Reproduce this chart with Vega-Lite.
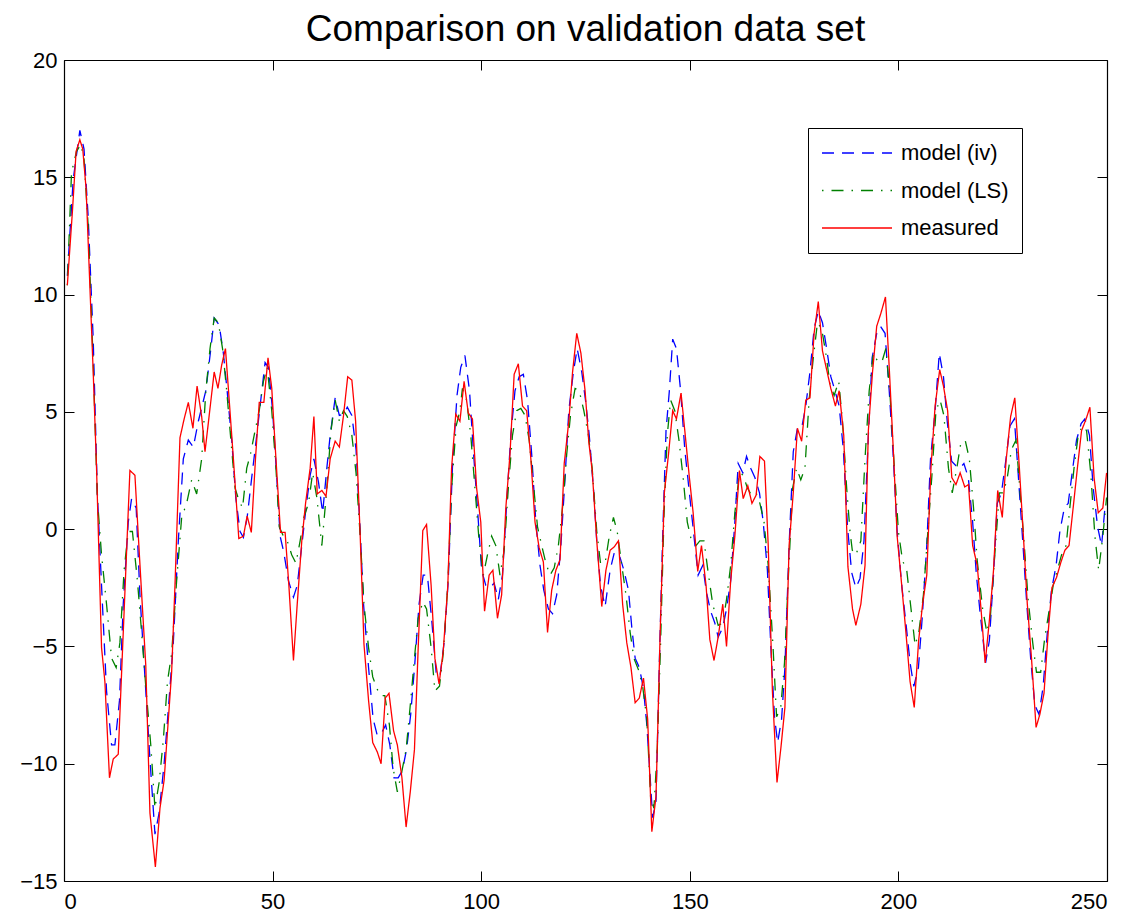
{
  "$schema": "https://vega.github.io/schema/vega-lite/v6.json",
  "autosize": {"type": "none"},
  "padding": {"left": 64, "top": 60, "right": 24, "bottom": 34},
  "width": 1043,
  "height": 821,
  "background": "white",
  "title": {"text": "Comparison on validation data set", "font": "Liberation Sans", "fontSize": 37, "fontWeight": "normal", "color": "black", "baseline": "alphabetic", "offset": -29, "anchor": "middle"},
  "datasets": {
    "iv": [
      {"x":0.8,"y":10.8},{"x":2.2,"y":14.9},{"x":3.8,"y":17.0},{"x":4.8,"y":16.2},{"x":5.8,"y":13.3},{"x":7.0,"y":8.1},{"x":8.0,"y":1.5},{"x":9.0,"y":-2.4},{"x":10.2,"y":-6.9},{"x":11.4,"y":-9.2},{"x":12.2,"y":-9.2},{"x":13.3,"y":-7.3},{"x":14.2,"y":-3.2},{"x":15.4,"y":0.3},{"x":16.2,"y":1.3},{"x":17.3,"y":0.9},{"x":18.2,"y":-2.8},{"x":19.4,"y":-6.3},{"x":20.6,"y":-9.8},{"x":21.8,"y":-13.0},{"x":22.8,"y":-12.1},{"x":24.0,"y":-10.0},{"x":25.0,"y":-7.7},{"x":26.2,"y":-4.85},{"x":27.4,"y":-0.5},{"x":28.6,"y":3.0},{"x":29.8,"y":3.8},{"x":31.0,"y":3.5},{"x":32.2,"y":4.6},{"x":34.0,"y":5.9},{"x":35.2,"y":7.7},{"x":36.0,"y":9.0},{"x":37.2,"y":8.7},{"x":38.2,"y":7.5},{"x":39.1,"y":5.9},{"x":40.2,"y":3.8},{"x":41.2,"y":1.3},{"x":42.2,"y":-0.1},{"x":43.0,"y":-0.35},{"x":43.9,"y":0.5},{"x":45.0,"y":2.2},{"x":46.2,"y":4.0},{"x":47.1,"y":5.4},{"x":48.2,"y":7.1},{"x":49.0,"y":6.9},{"x":50.0,"y":5.05},{"x":51.0,"y":2.2},{"x":51.8,"y":-0.3},{"x":52.7,"y":-1.0},{"x":53.8,"y":-2.2},{"x":55.0,"y":-2.9},{"x":55.9,"y":-2.4},{"x":57.0,"y":-0.7},{"x":58.0,"y":0.9},{"x":59.0,"y":2.3},{"x":59.9,"y":3.0},{"x":61.0,"y":2.0},{"x":62.0,"y":0.7},{"x":63.0,"y":2.6},{"x":63.8,"y":4.0},{"x":65.0,"y":5.6},{"x":66.0,"y":4.85},{"x":67.0,"y":4.9},{"x":67.9,"y":5.2},{"x":69.0,"y":4.85},{"x":70.0,"y":3.4},{"x":71.0,"y":-0.1},{"x":71.8,"y":-3.2},{"x":73.0,"y":-5.9},{"x":74.1,"y":-8.1},{"x":75.1,"y":-8.8},{"x":76.1,"y":-8.7},{"x":77.1,"y":-8.35},{"x":78.1,"y":-9.2},{"x":79.1,"y":-10.6},{"x":80.1,"y":-10.6},{"x":81.1,"y":-10.3},{"x":82.1,"y":-9.4},{"x":83.1,"y":-7.9},{"x":84.1,"y":-5.7},{"x":85.1,"y":-3.2},{"x":86.1,"y":-1.96},{"x":87.1,"y":-1.96},{"x":88.1,"y":-3.8},{"x":89.2,"y":-6.1},{"x":90.1,"y":-6.3},{"x":91.1,"y":-4.85},{"x":92.1,"y":-2.2},{"x":93.1,"y":2.6},{"x":94.2,"y":5.7},{"x":95.1,"y":6.9},{"x":96.1,"y":7.4},{"x":97.2,"y":5.9},{"x":98.1,"y":3.4},{"x":99.1,"y":0.9},{"x":100.1,"y":-1.75},{"x":101.1,"y":-2.4},{"x":102.1,"y":-2.5},{"x":103.1,"y":-2.3},{"x":104.1,"y":-3.0},{"x":105.1,"y":-1.96},{"x":106.1,"y":1.1},{"x":107.1,"y":4.0},{"x":108.1,"y":5.9},{"x":109.1,"y":6.5},{"x":110.1,"y":6.6},{"x":111.1,"y":5.5},{"x":112.1,"y":3.2},{"x":113.1,"y":0.3},{"x":114.1,"y":-1.55},{"x":115.0,"y":-2.6},{"x":116.1,"y":-3.4},{"x":117.1,"y":-3.6},{"x":118.1,"y":-2.8},{"x":119.1,"y":-0.7},{"x":120.1,"y":2.2},{"x":121.0,"y":5.05},{"x":122.1,"y":6.7},{"x":123.0,"y":7.7},{"x":124.1,"y":6.7},{"x":125.0,"y":5.5},{"x":125.9,"y":4.0},{"x":126.9,"y":1.75},{"x":127.7,"y":-0.5},{"x":128.6,"y":-2.4},{"x":129.7,"y":-3.3},{"x":130.9,"y":-1.75},{"x":131.9,"y":-1.0},{"x":133.1,"y":-1.1},{"x":134.2,"y":-1.75},{"x":135.3,"y":-2.6},{"x":136.1,"y":-4.2},{"x":136.9,"y":-5.5},{"x":137.9,"y":-5.9},{"x":138.9,"y":-6.8},{"x":139.7,"y":-8.35},{"x":140.5,"y":-10.6},{"x":141.1,"y":-12.3},{"x":141.9,"y":-11.6},{"x":142.7,"y":-5.7},{"x":143.5,"y":-0.3},{"x":144.3,"y":4.2},{"x":145.1,"y":5.9},{"x":145.9,"y":8.1},{"x":146.8,"y":7.7},{"x":147.8,"y":5.9},{"x":148.8,"y":3.4},{"x":149.9,"y":1.55},{"x":151.0,"y":-0.3},{"x":152.0,"y":-1.96},{"x":153.1,"y":-1.55},{"x":154.0,"y":-2.7},{"x":155.0,"y":-3.5},{"x":156.0,"y":-4.0},{"x":156.8,"y":-4.6},{"x":157.9,"y":-4.2},{"x":158.8,"y":-3.4},{"x":159.8,"y":-2.2},{"x":160.8,"y":0.3},{"x":161.6,"y":2.8},{"x":162.7,"y":2.4},{"x":163.6,"y":3.1},{"x":164.6,"y":2.6},{"x":165.6,"y":2.2},{"x":166.7,"y":1.55},{"x":167.6,"y":0.3},{"x":168.6,"y":-1.75},{"x":169.5,"y":-5.3},{"x":170.3,"y":-8.0},{"x":171.05,"y":-9.1},{"x":172.0,"y":-8.1},{"x":172.8,"y":-5.9},{"x":173.8,"y":-0.7},{"x":174.8,"y":3.3},{"x":175.8,"y":4.3},{"x":176.8,"y":4.3},{"x":177.8,"y":5.25},{"x":178.8,"y":6.7},{"x":179.8,"y":8.55},{"x":180.8,"y":9.3},{"x":181.8,"y":8.8},{"x":182.8,"y":7.7},{"x":183.8,"y":6.5},{"x":184.8,"y":5.9},{"x":185.8,"y":5.25},{"x":186.8,"y":3.4},{"x":187.8,"y":0.1},{"x":188.8,"y":-1.85},{"x":189.8,"y":-2.5},{"x":190.8,"y":-2.1},{"x":191.75,"y":-0.5},{"x":192.8,"y":4.0},{"x":193.7,"y":7.3},{"x":194.8,"y":8.35},{"x":195.7,"y":8.65},{"x":196.8,"y":8.35},{"x":197.8,"y":5.9},{"x":198.8,"y":3.0},{"x":199.7,"y":-0.1},{"x":200.8,"y":-2.4},{"x":201.8,"y":-4.0},{"x":202.8,"y":-5.7},{"x":203.7,"y":-6.7},{"x":204.8,"y":-5.9},{"x":205.7,"y":-3.8},{"x":206.8,"y":-0.7},{"x":207.7,"y":3.0},{"x":208.8,"y":5.05},{"x":209.8,"y":7.5},{"x":210.8,"y":6.5},{"x":211.7,"y":4.6},{"x":212.75,"y":2.9},{"x":213.8,"y":2.7},{"x":214.75,"y":2.6},{"x":215.7,"y":2.8},{"x":216.75,"y":2.2},{"x":217.8,"y":0.3},{"x":218.7,"y":-1.96},{"x":219.6,"y":-3.6},{"x":220.9,"y":-5.7},{"x":221.8,"y":-4.75},{"x":222.8,"y":-1.96},{"x":223.7,"y":1.1},{"x":224.7,"y":1.55},{"x":225.8,"y":3.0},{"x":226.75,"y":4.4},{"x":227.8,"y":4.7},{"x":228.7,"y":2.4},{"x":229.8,"y":-0.5},{"x":230.7,"y":-3.0},{"x":231.7,"y":-5.5},{"x":232.7,"y":-7.5},{"x":233.7,"y":-7.9},{"x":234.7,"y":-6.7},{"x":235.7,"y":-4.4},{"x":236.7,"y":-2.6},{"x":237.8,"y":-1.55},{"x":238.7,"y":-0.1},{"x":239.8,"y":0.93},{"x":240.7,"y":1.1},{"x":241.8,"y":2.6},{"x":242.7,"y":3.8},{"x":243.8,"y":4.5},{"x":244.7,"y":4.7},{"x":245.8,"y":4.0},{"x":246.7,"y":1.75},{"x":247.75,"y":0.1},{"x":248.7,"y":-0.7},{"x":249.5,"y":0.9}
    ],
    "ls": [
      {"x":0.8,"y":10.4},{"x":1.8,"y":15.2},{"x":3.0,"y":16.1},{"x":4.0,"y":16.4},{"x":4.8,"y":15.8},{"x":5.8,"y":12.9},{"x":7.0,"y":7.1},{"x":8.0,"y":1.3},{"x":9.0,"y":-1.1},{"x":10.2,"y":-3.2},{"x":11.4,"y":-5.5},{"x":12.5,"y":-5.9},{"x":13.4,"y":-4.85},{"x":14.4,"y":-1.75},{"x":15.4,"y":-0.1},{"x":16.4,"y":-0.1},{"x":17.6,"y":-2.2},{"x":18.6,"y":-4.4},{"x":19.6,"y":-6.7},{"x":20.8,"y":-9.2},{"x":21.8,"y":-11.9},{"x":22.8,"y":-10.8},{"x":23.8,"y":-9.0},{"x":24.8,"y":-6.5},{"x":25.8,"y":-5.3},{"x":27.0,"y":-2.2},{"x":28.2,"y":0.5},{"x":29.4,"y":1.1},{"x":30.6,"y":2.1},{"x":31.8,"y":1.5},{"x":33.0,"y":3.0},{"x":34.0,"y":5.9},{"x":35.0,"y":7.7},{"x":36.0,"y":9.0},{"x":37.0,"y":8.8},{"x":38.0,"y":7.7},{"x":39.0,"y":5.9},{"x":40.0,"y":3.8},{"x":41.0,"y":1.75},{"x":41.8,"y":1.3},{"x":42.8,"y":0.9},{"x":43.8,"y":2.6},{"x":44.7,"y":3.2},{"x":45.8,"y":4.2},{"x":46.8,"y":5.05},{"x":47.8,"y":6.3},{"x":48.7,"y":6.9},{"x":49.8,"y":5.05},{"x":50.8,"y":2.6},{"x":51.6,"y":0.1},{"x":52.6,"y":-0.3},{"x":53.5,"y":-0.5},{"x":54.6,"y":-1.1},{"x":55.6,"y":-1.45},{"x":56.6,"y":-0.5},{"x":57.5,"y":0.5},{"x":58.6,"y":1.1},{"x":59.6,"y":2.4},{"x":60.6,"y":1.35},{"x":61.8,"y":-0.7},{"x":63.0,"y":1.75},{"x":64.0,"y":4.2},{"x":65.0,"y":5.5},{"x":66.0,"y":4.6},{"x":67.0,"y":5.05},{"x":67.9,"y":4.8},{"x":69.0,"y":4.0},{"x":70.0,"y":2.4},{"x":71.0,"y":-0.3},{"x":71.9,"y":-3.2},{"x":73.0,"y":-5.05},{"x":74.0,"y":-6.3},{"x":75.0,"y":-6.8},{"x":75.9,"y":-7.1},{"x":76.9,"y":-7.1},{"x":78.0,"y":-8.35},{"x":78.9,"y":-10.2},{"x":79.9,"y":-11.2},{"x":80.9,"y":-10.4},{"x":82.0,"y":-9.4},{"x":82.9,"y":-7.7},{"x":84.0,"y":-5.5},{"x":84.9,"y":-3.8},{"x":86.0,"y":-3.1},{"x":86.9,"y":-3.4},{"x":88.0,"y":-5.05},{"x":88.9,"y":-6.9},{"x":90.0,"y":-6.7},{"x":90.9,"y":-5.3},{"x":92.0,"y":-2.4},{"x":92.9,"y":1.75},{"x":94.0,"y":4.4},{"x":94.9,"y":5.05},{"x":95.5,"y":6.0},{"x":96.5,"y":5.5},{"x":97.5,"y":4.0},{"x":98.5,"y":1.75},{"x":99.5,"y":-0.5},{"x":100.5,"y":-1.96},{"x":101.5,"y":-1.1},{"x":102.5,"y":-0.3},{"x":103.5,"y":-0.7},{"x":104.5,"y":-1.96},{"x":105.5,"y":-0.9},{"x":106.5,"y":1.75},{"x":107.5,"y":4.0},{"x":108.5,"y":5.05},{"x":109.5,"y":5.15},{"x":110.5,"y":4.85},{"x":111.5,"y":3.8},{"x":112.5,"y":1.95},{"x":113.5,"y":0.1},{"x":114.5,"y":-0.7},{"x":115.5,"y":-1.45},{"x":116.5,"y":-1.96},{"x":117.5,"y":-1.65},{"x":118.5,"y":-0.7},{"x":119.5,"y":0.93},{"x":120.5,"y":3.2},{"x":121.4,"y":4.85},{"x":122.5,"y":6.0},{"x":123.5,"y":5.9},{"x":124.6,"y":5.05},{"x":125.7,"y":4.0},{"x":126.6,"y":2.6},{"x":127.7,"y":-0.1},{"x":128.6,"y":-1.45},{"x":129.7,"y":-1.45},{"x":130.7,"y":-0.3},{"x":131.7,"y":0.5},{"x":132.6,"y":-0.1},{"x":133.7,"y":-1.55},{"x":134.7,"y":-2.8},{"x":135.7,"y":-4.4},{"x":136.6,"y":-5.5},{"x":137.7,"y":-6.0},{"x":138.7,"y":-6.7},{"x":139.7,"y":-8.1},{"x":140.6,"y":-11.4},{"x":141.4,"y":-11.9},{"x":142.2,"y":-9.4},{"x":143.0,"y":-4.85},{"x":143.8,"y":0.5},{"x":144.6,"y":4.0},{"x":145.4,"y":5.5},{"x":146.4,"y":5.05},{"x":147.4,"y":3.8},{"x":148.4,"y":2.2},{"x":149.4,"y":0.3},{"x":150.4,"y":-0.5},{"x":151.5,"y":-0.7},{"x":152.4,"y":-0.5},{"x":153.4,"y":-0.5},{"x":154.4,"y":-1.85},{"x":155.5,"y":-3.2},{"x":156.8,"y":-4.1},{"x":157.9,"y":-4.0},{"x":158.8,"y":-3.0},{"x":159.8,"y":-1.55},{"x":160.8,"y":0.7},{"x":161.9,"y":2.4},{"x":162.8,"y":2.3},{"x":163.8,"y":1.75},{"x":164.8,"y":1.45},{"x":165.9,"y":1.55},{"x":166.8,"y":1.1},{"x":167.8,"y":0.3},{"x":168.8,"y":-1.55},{"x":169.9,"y":-4.85},{"x":170.8,"y":-8.0},{"x":171.8,"y":-7.6},{"x":172.7,"y":-5.7},{"x":173.7,"y":-1.75},{"x":174.65,"y":1.75},{"x":175.6,"y":2.6},{"x":176.6,"y":2.1},{"x":177.6,"y":2.6},{"x":178.6,"y":5.5},{"x":179.6,"y":7.3},{"x":180.6,"y":8.8},{"x":181.6,"y":8.55},{"x":182.6,"y":7.5},{"x":183.6,"y":6.2},{"x":184.6,"y":5.7},{"x":185.7,"y":6.3},{"x":186.6,"y":4.6},{"x":187.6,"y":1.75},{"x":188.4,"y":-0.1},{"x":188.95,"y":-0.9},{"x":189.8,"y":-1.1},{"x":191.0,"y":-0.5},{"x":192.0,"y":3.0},{"x":193.0,"y":5.9},{"x":194.0,"y":7.5},{"x":194.9,"y":7.2},{"x":196.0,"y":7.1},{"x":197.0,"y":7.7},{"x":198.0,"y":5.7},{"x":198.9,"y":3.0},{"x":200.0,"y":-0.1},{"x":201.0,"y":-1.35},{"x":202.0,"y":-1.75},{"x":202.9,"y":-3.2},{"x":204.0,"y":-4.95},{"x":204.9,"y":-4.4},{"x":206.0,"y":-2.8},{"x":206.9,"y":-0.5},{"x":208.0,"y":2.2},{"x":209.0,"y":5.05},{"x":210.0,"y":5.5},{"x":210.9,"y":4.85},{"x":212.0,"y":2.6},{"x":212.9,"y":1.55},{"x":214.0,"y":2.6},{"x":214.9,"y":3.6},{"x":216.0,"y":3.8},{"x":217.0,"y":3.0},{"x":218.0,"y":0.93},{"x":218.9,"y":-1.35},{"x":220.2,"y":-3.4},{"x":221.2,"y":-4.4},{"x":222.1,"y":-3.6},{"x":223.1,"y":-1.1},{"x":224.2,"y":1.55},{"x":225.2,"y":1.55},{"x":226.1,"y":2.2},{"x":227.1,"y":3.4},{"x":228.2,"y":3.8},{"x":229.1,"y":1.75},{"x":230.1,"y":-0.5},{"x":231.1,"y":-3.0},{"x":232.2,"y":-4.85},{"x":233.1,"y":-6.1},{"x":234.1,"y":-6.1},{"x":235.1,"y":-4.6},{"x":236.2,"y":-3.4},{"x":237.1,"y":-2.4},{"x":238.1,"y":-1.75},{"x":239.1,"y":-1.1},{"x":240.2,"y":-0.7},{"x":241.1,"y":0.93},{"x":242.1,"y":2.6},{"x":243.1,"y":4.0},{"x":244.1,"y":4.4},{"x":245.1,"y":4.2},{"x":246.1,"y":2.4},{"x":247.1,"y":-0.3},{"x":248.0,"y":-1.75},{"x":249.0,"y":-0.3},{"x":249.9,"y":1.35}
    ],
    "meas": [
      {"x":0.8,"y":10.4},{"x":2.0,"y":13.5},{"x":2.9,"y":16.1},{"x":3.8,"y":16.6},{"x":4.5,"y":16.2},{"x":5.3,"y":14.5},{"x":7.0,"y":6.7},{"x":7.8,"y":2.6},{"x":9.0,"y":-5.05},{"x":9.8,"y":-6.5},{"x":10.9,"y":-10.6},{"x":11.8,"y":-9.8},{"x":13.0,"y":-9.6},{"x":15.8,"y":2.5},{"x":17.0,"y":2.3},{"x":18.2,"y":-1.5},{"x":19.6,"y":-5.8},{"x":20.6,"y":-12.1},{"x":21.9,"y":-14.4},{"x":23.0,"y":-11.9},{"x":24.0,"y":-10.7},{"x":25.8,"y":-6.1},{"x":26.6,"y":-2.4},{"x":27.8,"y":3.9},{"x":28.8,"y":4.7},{"x":29.8,"y":5.4},{"x":30.9,"y":4.3},{"x":31.9,"y":6.1},{"x":33.0,"y":4.8},{"x":33.8,"y":3.3},{"x":36.0,"y":6.7},{"x":36.9,"y":6.0},{"x":37.8,"y":7.0},{"x":38.7,"y":7.7},{"x":39.6,"y":5.5},{"x":40.6,"y":3.0},{"x":41.9,"y":-0.4},{"x":43.0,"y":-0.3},{"x":43.9,"y":0.56},{"x":44.9,"y":-0.14},{"x":45.9,"y":3.0},{"x":46.8,"y":5.4},{"x":47.9,"y":5.4},{"x":48.9,"y":7.3},{"x":49.8,"y":6.0},{"x":50.8,"y":3.0},{"x":51.9,"y":-0.14},{"x":53.0,"y":-0.14},{"x":53.9,"y":-2.4},{"x":55.0,"y":-5.6},{"x":55.9,"y":-3.2},{"x":57.0,"y":-0.5},{"x":57.9,"y":1.1},{"x":59.0,"y":2.6},{"x":59.9,"y":4.8},{"x":60.7,"y":1.5},{"x":61.8,"y":1.65},{"x":62.8,"y":1.4},{"x":63.8,"y":3.0},{"x":65.0,"y":3.75},{"x":66.0,"y":3.5},{"x":67.0,"y":4.85},{"x":68.0,"y":6.5},{"x":69.0,"y":6.35},{"x":69.9,"y":4.6},{"x":71.0,"y":-0.3},{"x":71.9,"y":-4.9},{"x":73.0,"y":-7.3},{"x":74.0,"y":-9.1},{"x":75.1,"y":-9.5},{"x":76.0,"y":-10.0},{"x":77.0,"y":-7.2},{"x":77.9,"y":-7.0},{"x":79.0,"y":-8.6},{"x":79.9,"y":-9.2},{"x":81.0,"y":-10.6},{"x":82.0,"y":-12.7},{"x":83.0,"y":-11.2},{"x":84.0,"y":-9.4},{"x":84.9,"y":-5.05},{"x":86.0,"y":-0.06},{"x":86.9,"y":0.2},{"x":88.0,"y":-2.4},{"x":88.9,"y":-5.5},{"x":89.9,"y":-6.6},{"x":90.9,"y":-5.2},{"x":92.0,"y":-2.4},{"x":92.9,"y":2.6},{"x":93.9,"y":4.9},{"x":94.9,"y":4.6},{"x":95.9,"y":6.3},{"x":96.9,"y":4.95},{"x":97.9,"y":4.7},{"x":98.9,"y":1.75},{"x":99.9,"y":0.3},{"x":100.8,"y":-3.5},{"x":101.9,"y":-1.96},{"x":102.8,"y":-1.75},{"x":103.9,"y":-3.8},{"x":104.9,"y":-2.8},{"x":105.9,"y":0.9},{"x":106.9,"y":3.2},{"x":107.9,"y":6.6},{"x":108.9,"y":7.05},{"x":109.9,"y":5.25},{"x":110.9,"y":5.05},{"x":111.9,"y":3.0},{"x":112.9,"y":0.3},{"x":113.9,"y":-0.8},{"x":114.9,"y":-1.4},{"x":115.9,"y":-4.4},{"x":116.9,"y":-2.6},{"x":117.9,"y":-1.75},{"x":118.9,"y":-1.3},{"x":119.9,"y":2.8},{"x":121.0,"y":4.6},{"x":121.9,"y":6.7},{"x":122.9,"y":8.35},{"x":123.9,"y":7.5},{"x":124.9,"y":5.9},{"x":125.8,"y":3.7},{"x":126.6,"y":2.5},{"x":127.7,"y":-0.5},{"x":128.9,"y":-3.3},{"x":129.9,"y":-1.75},{"x":130.9,"y":-0.9},{"x":131.9,"y":-0.75},{"x":132.9,"y":-0.5},{"x":133.9,"y":-3.2},{"x":134.9,"y":-4.85},{"x":135.9,"y":-5.9},{"x":136.9,"y":-7.4},{"x":137.9,"y":-7.2},{"x":138.9,"y":-6.35},{"x":139.9,"y":-8.1},{"x":140.9,"y":-12.9},{"x":141.9,"y":-11.4},{"x":142.9,"y":-4.4},{"x":143.9,"y":1.55},{"x":144.9,"y":3.2},{"x":145.9,"y":5.05},{"x":146.8,"y":4.7},{"x":147.9,"y":5.8},{"x":148.8,"y":4.2},{"x":149.9,"y":2.2},{"x":150.8,"y":0.7},{"x":151.9,"y":-1.8},{"x":152.8,"y":-0.7},{"x":153.9,"y":-2.4},{"x":154.8,"y":-4.7},{"x":155.8,"y":-5.6},{"x":156.8,"y":-4.6},{"x":157.9,"y":-3.2},{"x":158.8,"y":-5.0},{"x":159.8,"y":-2.2},{"x":160.8,"y":-0.3},{"x":161.9,"y":2.5},{"x":162.8,"y":1.3},{"x":163.9,"y":1.85},{"x":164.9,"y":1.1},{"x":165.9,"y":1.45},{"x":166.8,"y":3.1},{"x":167.9,"y":2.9},{"x":168.8,"y":-0.7},{"x":169.8,"y":-6.9},{"x":170.9,"y":-10.8},{"x":171.85,"y":-9.3},{"x":172.8,"y":-7.6},{"x":173.8,"y":-0.7},{"x":174.8,"y":1.55},{"x":175.8,"y":4.3},{"x":176.8,"y":3.75},{"x":177.8,"y":5.5},{"x":178.8,"y":5.6},{"x":179.8,"y":8.35},{"x":180.8,"y":9.7},{"x":181.8,"y":7.6},{"x":182.8,"y":6.8},{"x":183.8,"y":6.0},{"x":184.9,"y":5.25},{"x":185.8,"y":5.9},{"x":186.9,"y":4.0},{"x":187.9,"y":-1.6},{"x":189.0,"y":-3.4},{"x":189.8,"y":-4.1},{"x":191.0,"y":-3.2},{"x":192.0,"y":-1.55},{"x":192.8,"y":4.2},{"x":193.8,"y":6.7},{"x":194.8,"y":8.65},{"x":195.8,"y":9.2},{"x":196.9,"y":9.9},{"x":197.8,"y":6.9},{"x":198.8,"y":3.3},{"x":199.7,"y":-0.3},{"x":200.8,"y":-2.4},{"x":201.8,"y":-4.4},{"x":202.8,"y":-6.5},{"x":203.8,"y":-7.6},{"x":204.85,"y":-4.75},{"x":205.8,"y":-3.2},{"x":206.8,"y":-1.96},{"x":207.8,"y":2.6},{"x":208.8,"y":5.25},{"x":209.9,"y":6.8},{"x":210.8,"y":6.1},{"x":211.8,"y":5.05},{"x":212.8,"y":2.2},{"x":213.8,"y":1.9},{"x":214.8,"y":2.4},{"x":215.9,"y":1.8},{"x":216.8,"y":1.9},{"x":217.8,"y":-0.7},{"x":218.9,"y":-1.55},{"x":219.8,"y":-3.4},{"x":220.8,"y":-5.7},{"x":221.8,"y":-3.9},{"x":222.8,"y":-1.75},{"x":223.8,"y":1.65},{"x":224.9,"y":0.5},{"x":225.8,"y":2.9},{"x":226.9,"y":4.8},{"x":227.9,"y":5.6},{"x":229.0,"y":2.6},{"x":229.9,"y":-0.1},{"x":230.9,"y":-3.2},{"x":231.9,"y":-5.5},{"x":233.0,"y":-8.45},{"x":233.9,"y":-7.9},{"x":234.9,"y":-7.0},{"x":235.9,"y":-4.4},{"x":236.8,"y":-2.5},{"x":237.9,"y":-2.06},{"x":238.9,"y":-1.44},{"x":239.9,"y":-0.9},{"x":240.9,"y":-0.7},{"x":241.9,"y":0.93},{"x":242.9,"y":2.6},{"x":243.9,"y":4.2},{"x":245.0,"y":4.7},{"x":245.9,"y":5.2},{"x":246.9,"y":2.2},{"x":247.9,"y":0.7},{"x":249.0,"y":0.9},{"x":249.9,"y":2.4}
    ]
  },
  "layer": [
    {
      "data": {"name": "iv"},
      "mark": {"type": "line", "strokeWidth": 1.3, "clip": true},
      "encoding": {
        "x": {"field": "x", "type": "quantitative", "scale": {"domain": [0, 250], "nice": false, "zero": false},
              "axis": {"orient": "bottom", "values": [0, 50, 100, 150, 200, 250], "title": null, "grid": false, "tickSize": -10, "labelPadding": 20, "format": "d"}},
        "y": {"field": "y", "type": "quantitative", "scale": {"domain": [-15, 20], "nice": false, "zero": false},
              "axis": {"orient": "left", "values": [-15, -10, -5, 0, 5, 10, 15, 20], "title": null, "grid": false, "tickSize": -10, "labelPadding": 17, "format": "d"}},
        "color": {"datum": "model (iv)", "type": "nominal", "scale": {"domain": ["model (iv)", "model (LS)", "measured"], "range": ["#0000ff", "#008000", "#ff0000"]}, "legend": {"title": null}},
        "strokeDash": {"datum": "model (iv)", "type": "nominal", "scale": {"domain": ["model (iv)", "model (LS)", "measured"], "range": [[12, 8], [1.5, 8, 12, 8], [1, 0]]}, "legend": {"title": null}}
      }
    },
    {
      "data": {"name": "ls"},
      "mark": {"type": "line", "strokeWidth": 1.3, "clip": true},
      "encoding": {
        "x": {"field": "x", "type": "quantitative", "axis": null},
        "y": {"field": "y", "type": "quantitative", "axis": null},
        "color": {"datum": "model (LS)", "type": "nominal"},
        "strokeDash": {"datum": "model (LS)", "type": "nominal"}
      }
    },
    {
      "data": {"name": "meas"},
      "mark": {"type": "line", "strokeWidth": 1.3, "clip": true},
      "encoding": {
        "x": {"field": "x", "type": "quantitative", "axis": null},
        "y": {"field": "y", "type": "quantitative", "axis": null},
        "color": {"datum": "measured", "type": "nominal"},
        "strokeDash": {"datum": "measured", "type": "nominal"}
      }
    },
    {
      "data": {"name": "meas"},
      "mark": {"type": "line", "strokeOpacity": 0, "clip": true},
      "encoding": {
        "x": {"field": "x", "type": "quantitative",
              "axis": {"orient": "top", "values": [0, 50, 100, 150, 200, 250], "title": null, "grid": false, "labels": false, "tickSize": -10}},
        "y": {"field": "y", "type": "quantitative",
              "axis": {"orient": "right", "values": [-15, -10, -5, 0, 5, 10, 15, 20], "title": null, "grid": false, "labels": false, "tickSize": -10}}
      }
    }
  ],
  "resolve": {"axis": {"x": "independent", "y": "independent"}},
  "config": {
    "view": {"stroke": null},
    "axis": {"domainColor": "black", "domainWidth": 1.2, "tickColor": "black", "tickWidth": 1, "labelColor": "black", "labelFont": "Liberation Sans", "labelFontSize": 22},
    "legend": {"orient": "none", "legendX": 744, "legendY": 68, "padding": 13, "strokeColor": "black", "strokeWidth": 1, "fillColor": "white", "cornerRadius": 0, "symbolType": "stroke", "symbolSize": 4900, "symbolStrokeWidth": 1.3, "labelFont": "Liberation Sans", "labelFontSize": 22, "labelColor": "black", "labelOffset": 8, "clipHeight": 24, "rowPadding": 13.5}
  }
}
